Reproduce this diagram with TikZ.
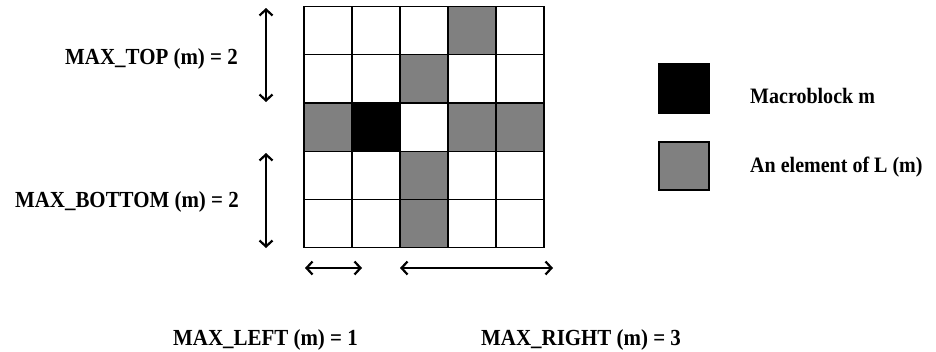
\documentclass[tikz,border=0pt]{standalone}
\usepackage{fontspec}
\usepackage{graphicx}
\setmainfont{Liberation Serif}
\usetikzlibrary{arrows.meta}
\definecolor{cellgray}{RGB}{128,128,128}
\newcommand{\narrowtxt}[1]{\scalebox{0.91}[1]{#1}}
\begin{document}
\begin{tikzpicture}[x=1pt,y=-1pt,
  lbl/.style={inner sep=0pt,anchor=base west,font=\fontsize{23}{26}\selectfont\bfseries},
  leg/.style={inner sep=0pt,anchor=base west,font=\fontsize{22}{26}\selectfont\bfseries},
  cell/.style={draw=black,line width=1.1pt},
  dim/.style={line width=2.2pt,{Straight Barb[length=6pt,width=13pt,line width=2.2pt]}-{Straight Barb[length=6pt,width=13pt,line width=2.2pt]}}]
\useasboundingbox (0,0) rectangle (936,351);
% grid
\foreach \c/\r/\f in {
 0/0/white,1/0/white,2/0/white,3/0/cellgray,4/0/white,
 0/1/white,1/1/white,2/1/cellgray,3/1/white,4/1/white,
 0/2/cellgray,1/2/black,2/2/white,3/2/cellgray,4/2/cellgray,
 0/3/white,1/3/white,2/3/cellgray,3/3/white,4/3/white,
 0/4/white,1/4/white,2/4/cellgray,3/4/white,4/4/white}
{\path[cell,fill=\f] (304+48*\c,6.6+48.2*\r) rectangle ++(48,48.2);}
% legend
\path[cell,fill=black] (659,64) rectangle (709,113);
\path[cell,fill=cellgray] (659,142) rectangle (709,190);
\node[leg] (lmb) at (750,103) {\narrowtxt{Macroblock m}};
\node[leg] (lel) at (750,172) {\narrowtxt{An element of L (m)}};
% labels
\node[lbl,anchor=base east] (top) at (238,64) {\narrowtxt{MAX\_TOP (m) = 2}};
\node[lbl,anchor=base east] (bot) at (239,207) {\narrowtxt{MAX\_BOTTOM (m) = 2}};
\node[lbl,anchor=base] (left) at (265.5,345) {\narrowtxt{MAX\_LEFT (m) = 1}};
\node[lbl] (right) at (481,345) {\narrowtxt{MAX\_RIGHT (m) = 3}};
% arrows
\coordinate (t1) at (266,8); \coordinate (t2) at (266,102);
\coordinate (b1) at (266,153); \coordinate (b2) at (266,248);
\coordinate (l1) at (305,268); \coordinate (l2) at (362,268);
\coordinate (r1) at (400,268); \coordinate (r2) at (553,268);
\draw[dim] (t1) -- (t2);
\draw[dim] (b1) -- (b2);
\draw[dim] (l1) -- (l2);
\draw[dim] (r1) -- (r2);
\end{tikzpicture}
\end{document}
